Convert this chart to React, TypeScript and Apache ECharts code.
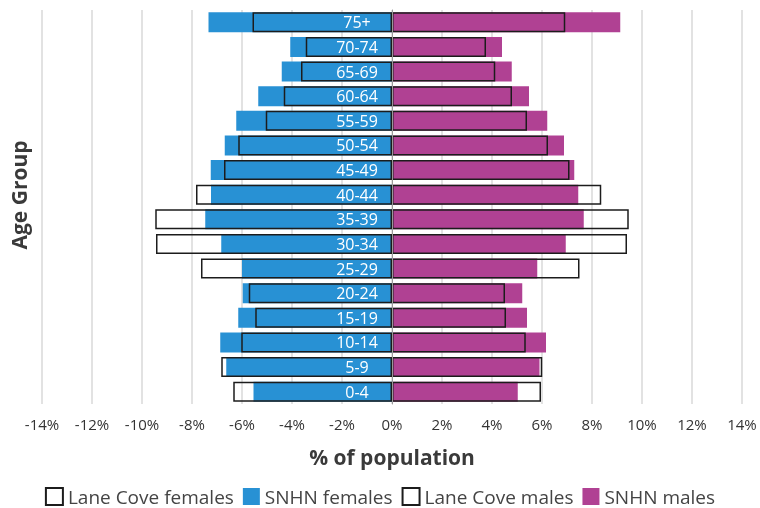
import React, { useEffect, useRef } from "react";
import * as echarts from "echarts";

const ageGroups = ["0-4", "5-9", "10-14", "15-19", "20-24", "25-29", "30-34", "35-39", "40-44", "45-49", "50-54", "55-59", "60-64", "65-69", "70-74", "75+"];
const snhnFemales = [5.54, 6.63, 6.87, 6.15, 5.97, 6.0, 6.83, 7.47, 7.24, 7.25, 6.69, 6.23, 5.35, 4.41, 4.07, 7.34];
const laneCoveFemales = [6.35, 6.83, 6.03, 5.47, 5.73, 7.64, 9.44, 9.47, 7.84, 6.72, 6.15, 5.05, 4.33, 3.64, 3.45, 5.58];
const snhnMales = [5.03, 5.9, 6.16, 5.4, 5.21, 5.81, 6.95, 7.67, 7.45, 7.29, 6.88, 6.21, 5.48, 4.79, 4.4, 9.13];
const laneCoveMales = [5.96, 6.01, 5.35, 4.56, 4.52, 7.5, 9.4, 9.47, 8.37, 7.1, 6.24, 5.4, 4.8, 4.13, 3.76, 6.93];

const FONT = "'Open Sans', sans-serif";
const BLUE = "#2891d4";
const PURPLE = "#b04193";

export default function App() {
  const ref = useRef<HTMLDivElement>(null);
  useEffect(() => {
    const chart = echarts.init(ref.current!, undefined, { renderer: "svg" });
    const outline = {
      color: "rgba(255,255,255,0)",
      borderColor: "#1c1c1c",
      borderWidth: 1.5,
    };
    chart.setOption({
      animation: false,
      textStyle: { fontFamily: FONT },
      grid: { left: 42, right: 18, top: 10, bottom: 104, containLabel: false, outerBoundsMode: "none" },
      xAxis: {
        type: "value",
        min: -14,
        max: 14,
        interval: 2,
        name: "% of population",
        nameLocation: "middle",
        nameGap: 42,
        nameTextStyle: { fontFamily: FONT, fontSize: 21, fontWeight: "bold", color: "#3a3a3a" },
        axisLine: { show: false },
        axisTick: { show: false },
        axisLabel: { formatter: (v: number) => v + "%", color: "#333", fontSize: 15, margin: 12, fontFamily: FONT },
        splitLine: { show: true, lineStyle: { color: "#d9d9d9", width: 1.5 } },
      },
      yAxis: {
        type: "category",
        data: ageGroups,
        z: 10,
        offset: -350,
        axisLine: { show: true, onZero: false, lineStyle: { color: "#999", width: 1 } },
        axisTick: { show: false },
        axisLabel: { color: "#fff", fontSize: 16, margin: 35, align: "center", fontFamily: FONT, interval: 0 },
        splitLine: { show: false },
      },
      legend: {
        top: 487,
        left: "center",
        padding: 0,
        itemGap: 9,
        itemWidth: 17,
        itemHeight: 17,
        icon: "rect",
        textStyle: { fontSize: 19, lineHeight: 19, color: "#444", fontFamily: FONT },
        data: ["Lane Cove females", "SNHN females", "Lane Cove males", "SNHN males"],
      },
      graphic: [
        {
          type: "text",
          x: 19,
          y: 195,
          rotation: Math.PI / 2,
          style: {
            text: "Age Group",
            fontFamily: FONT,
            fontSize: 21,
            fontWeight: "bold",
            fill: "#3a3a3a",
            textAlign: "center",
            textVerticalAlign: "middle",
          },
        },
      ],
      series: [
        {
          name: "SNHN females",
          type: "bar",
          data: snhnFemales.map((v) => -v),
          barCategoryGap: "19%",
          barGap: "-100%",
          itemStyle: { color: BLUE },
          z: 2,
        },
        {
          name: "Lane Cove females",
          type: "bar",
          data: laneCoveFemales.map((v) => -v),
          barCategoryGap: "19%",
          barGap: "-100%",
          itemStyle: outline,
          z: 3,
        },
        {
          name: "SNHN males",
          type: "bar",
          data: snhnMales,
          barCategoryGap: "19%",
          barGap: "-100%",
          itemStyle: { color: PURPLE },
          z: 2,
        },
        {
          name: "Lane Cove males",
          type: "bar",
          data: laneCoveMales,
          barCategoryGap: "19%",
          barGap: "-100%",
          itemStyle: outline,
          z: 3,
        },
      ],
    });
    return () => chart.dispose();
  }, []);
  return <div ref={ref} style={{ position: "fixed", left: 0, top: 0, width: 760, height: 508 }} />;
}
